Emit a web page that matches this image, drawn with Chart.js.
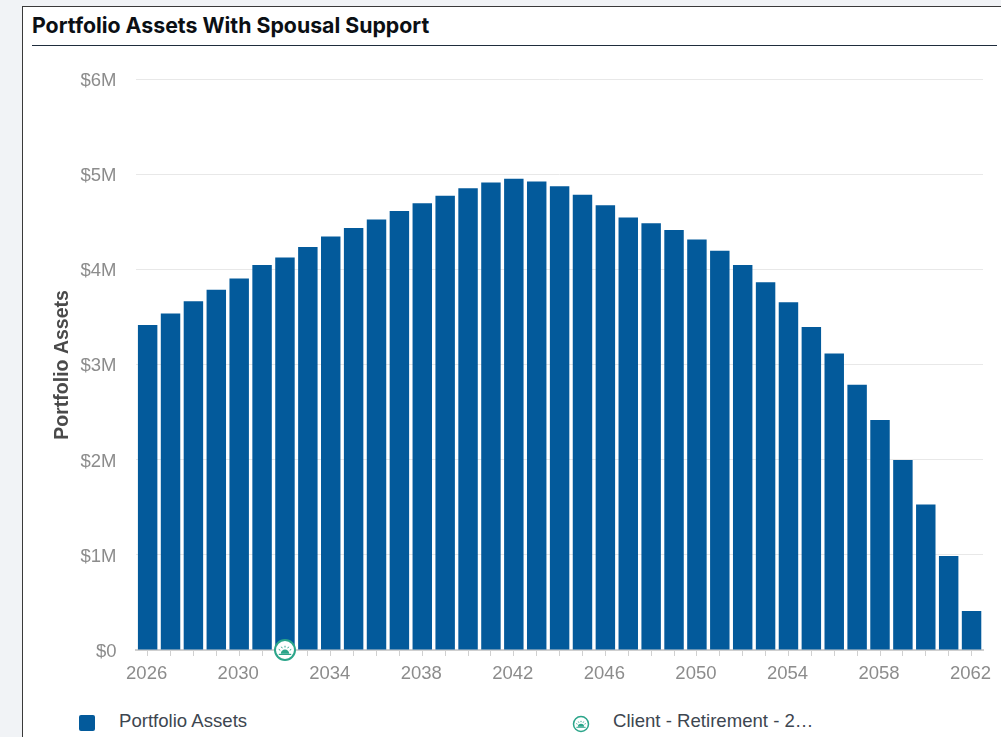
<!DOCTYPE html>
<html>
<head>
<meta charset="utf-8">
<title>Portfolio Assets With Spousal Support</title>
<script src="https://cdn.jsdelivr.net/npm/chart.js@4"></script>
<style>
  html, body { margin: 0; padding: 0; width: 1001px; height: 737px; overflow: hidden; background: #f1f3f6; }
  .card { position: absolute; left: 22px; top: 6px; width: 979px; height: 731px; background: #fff;
    border-left: 1px solid #3a3a3a; border-top: 1px solid #3a3a3a; box-sizing: border-box; }
  h1 { position: absolute; left: 9px; top: 5px; margin: 0; font: 700 21.3px Inter, sans-serif; color: #0b0f14; line-height: 26px; white-space: nowrap; }
  .rule { position: absolute; left: 9px; top: 38px; width: 965px; height: 1px; background: #1f2d3d; }
  .chart-box { position: absolute; left: 0; top: 42px; width: 978px; height: 640px; }
  .legend-item { position: absolute; font: 18.6px "Liberation Sans", Arial, sans-serif; color: #3d4650; line-height: 22px; white-space: nowrap; }
  .sq { position: absolute; left: 56px; top: 708px; width: 16px; height: 16px; background: #035a9b; border-radius: 2px; }
  #iconeLegenda { position: absolute; left: 549px; top: 708px; }
</style>
</head>
<body>
<div class="card">
  <h1>Portfolio Assets With Spousal Support</h1>
  <div class="rule"></div>
  <div class="chart-box"><canvas id="grafico" width="978" height="640"></canvas></div>
  <div class="sq"></div>
  <div class="legend-item" id="legAtivos" style="left:96px;top:703px"></div>
  <canvas id="iconeLegenda" width="18" height="18"></canvas>
  <div class="legend-item" id="legMarco" style="left:590px;top:703px"></div>
</div>
<script>
// Dados
const ANOS = ['2026', '2027', '2028', '2029', '2030', '2031', '2032', '2033', '2034', '2035', '2036', '2037', '2038',
  '2039', '2040', '2041', '2042', '2043', '2044', '2045', '2046', '2047', '2048', '2049', '2050', '2051', '2052', '2053',
  '2054', '2055', '2056', '2057', '2058', '2059', '2060', '2061', '2062'];
const ATIVOS = [3.42, 3.54, 3.67, 3.79, 3.91, 4.05, 4.13, 4.24, 4.35, 4.44, 4.53, 4.62, 4.70,
  4.78, 4.86, 4.92, 4.96, 4.93, 4.88, 4.79, 4.68, 4.55, 4.49, 4.42, 4.32, 4.20, 4.05, 3.87,
  3.66, 3.40, 3.12, 2.79, 2.42, 2.00, 1.53, 0.99, 0.41];
const MARCOS = [{ x: '2032', y: 0 }];
const ROTULOS_X = ['2026', '2030', '2034', '2038', '2042', '2046', '2050', '2054', '2058', '2062'];
const NOME_SERIE = 'Portfolio Assets';
const NOME_MARCO = 'Client - Retirement - 2…';

const AZUL = '#035a9b';
const VERDE = '#2ba58a';
const TEXTO_EIXO = '#8c8c8c';

document.getElementById('legAtivos').textContent = NOME_SERIE;
document.getElementById('legMarco').textContent = NOME_MARCO;

// Ícone do marco: círculo com o sol nascendo
function desenharIcone(ctx, c, r, linha) {
  ctx.save();
  ctx.beginPath();
  ctx.arc(c, c, r, 0, Math.PI * 2);
  ctx.fillStyle = '#fff';
  ctx.fill();
  ctx.lineWidth = linha;
  ctx.strokeStyle = VERDE;
  ctx.stroke();
  ctx.fillStyle = VERDE;
  ctx.beginPath();
  ctx.arc(c, c + r * 0.38, r * 0.42, Math.PI, 0);
  ctx.closePath();
  ctx.fill();
  ctx.fillRect(c - r * 0.62, c + r * 0.38, r * 1.24, r * 0.12);
  ctx.lineWidth = 1;
  ctx.strokeStyle = VERDE;
  [-60, -30, 0, 30, 60].forEach((a) => {
    const t = (a - 90) * Math.PI / 180;
    ctx.beginPath();
    ctx.moveTo(c + Math.cos(t) * r * 0.55, c + r * 0.3 + Math.sin(t) * r * 0.55);
    ctx.lineTo(c + Math.cos(t) * r * 0.72, c + r * 0.3 + Math.sin(t) * r * 0.72);
    ctx.stroke();
  });
  ctx.restore();
}

const iconeMarco = document.createElement('canvas');
iconeMarco.width = 24;
iconeMarco.height = 24;
desenharIcone(iconeMarco.getContext('2d'), 12, 10, 2);
desenharIcone(document.getElementById('iconeLegenda').getContext('2d'), 9, 7.5, 1.5);

new Chart(document.getElementById('grafico'), {
  data: {
    labels: ANOS,
    datasets: [
      {
        type: 'line',
        label: NOME_MARCO,
        data: MARCOS,
        showLine: false,
        pointStyle: iconeMarco,
        clip: false,
        order: 0,
      },
      {
        type: 'bar',
        label: NOME_SERIE,
        data: ATIVOS,
        backgroundColor: AZUL,
        barPercentage: 0.85,
        categoryPercentage: 1,
        order: 1,
      },
    ],
  },
  options: {
    responsive: false,
    animation: false,
    layout: { padding: { top: 27, right: 18, left: 27.5 } },
    plugins: { legend: { display: false }, tooltip: { enabled: false } },
    scales: {
      x: {
        type: 'category',
        offset: true,
        afterFit: (eixo) => { eixo.height = 39; },
        grid: { drawOnChartArea: false, drawTicks: true, tickLength: 6, color: '#d0d0d0', offset: false },
        border: { color: '#cfcfcf', width: 2 },
        ticks: {
          autoSkip: false,
          maxRotation: 0,
          padding: 7,
          labelOffset: -1,
          color: TEXTO_EIXO,
          font: { family: '"Liberation Sans", Arial, sans-serif', size: 18.5 },
          callback(valor) {
            const ano = ANOS[valor];
            return ROTULOS_X.includes(ano) ? ano : '';
          },
        },
      },
      y: {
        min: 0,
        max: 6,
        afterFit: (eixo) => { eixo.width = 85.7; },
        grid: { color: '#e8e8e8', drawTicks: false },
        border: { display: false },
        title: {
          display: true,
          text: NOME_SERIE,
          color: '#4a4a4a',
          padding: { top: 0, bottom: 0 },
          font: { family: '"Liberation Sans", Arial, sans-serif', size: 19.5, weight: 'bold' },
        },
        ticks: {
          stepSize: 1,
          padding: 19.7,
          labelOffset: 1.5,
          color: TEXTO_EIXO,
          font: { family: '"Liberation Sans", Arial, sans-serif', size: 18.5 },
          callback: (v) => (v === 0 ? '$0' : `$${v}M`),
        },
      },
    },
  },
});
</script>
</body>
</html>
